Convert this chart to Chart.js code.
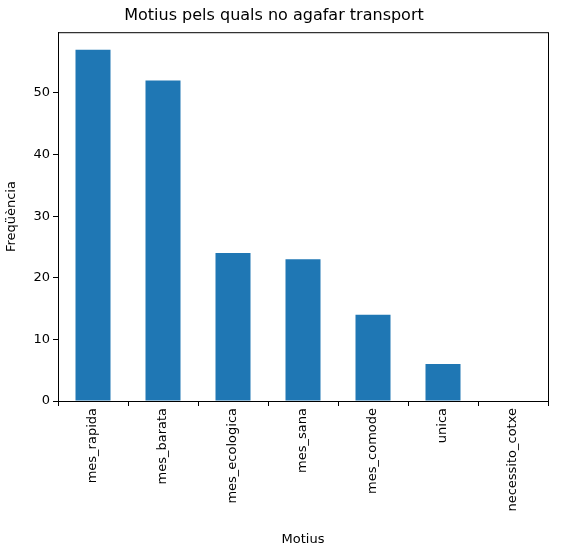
<!DOCTYPE html>
<html>
<head>
<meta charset="utf-8">
<script src="https://cdn.jsdelivr.net/npm/chart.js@4/dist/chart.umd.min.js"></script>
<style>
  html, body { margin: 0; padding: 0; background: #fff; }
  #wrap { width: 563px; height: 551px; }
</style>
</head>
<body>
<div id="wrap"><canvas id="chart"></canvas></div>
<script>
const categories = ['mes_rapida', 'mes_barata', 'mes_ecologica', 'mes_sana', 'mes_comode', 'unica', 'necessito_cotxe'];
const frequencies = [57, 52, 24, 23, 14, 6, 0];
const yTicks = [0, 10, 20, 30, 40, 50];

const FONT = 'DejaVu Sans, sans-serif';
Chart.defaults.font.family = FONT;
Chart.defaults.color = '#000';

// frame around the plot area, matplotlib style
const frame = {
    id: 'frame',
    afterDraw(chart) {
        const { ctx, chartArea: a } = chart;
        ctx.save();
        ctx.strokeStyle = '#000';
        ctx.lineWidth = 1;
        ctx.strokeRect(a.left + 0.5, a.top + 0.5, a.right - a.left, a.bottom - a.top);
        ctx.restore();
    }
};

new Chart(document.getElementById('chart'), {
    type: 'bar',
    data: {
        labels: categories,
        datasets: [{
            data: frequencies,
            backgroundColor: '#1f77b4',
            categoryPercentage: 1,
            barPercentage: 0.5
        }]
    },
    options: {
        responsive: true,
        maintainAspectRatio: false,
        animation: false,
        layout: { padding: { left: 0, right: 15, top: 0, bottom: 0 } },
        plugins: {
            legend: { display: false },
            tooltip: { enabled: false },
            title: {
                display: true,
                text: 'Motius pels quals no agafar transport',
                font: { size: 16, weight: 'normal' },
                padding: { top: 6, bottom: 7 }
            }
        },
        scales: {
            x: {
                grid: { drawOnChartArea: false, tickLength: 5, color: '#000' },
                border: { color: '#000' },
                ticks: { font: { size: 13 }, maxRotation: 90, minRotation: 90, padding: 2 },
                title: { display: true, text: 'Motius', font: { size: 13 }, padding: { top: 4 } },
                afterFit(s) { s.height = 150; }
            },
            y: {
                min: 0,
                max: 59.85,
                grid: { drawOnChartArea: false, tickLength: 5, color: '#000' },
                border: { color: '#000' },
                ticks: { font: { size: 13 }, padding: 3 },
                afterBuildTicks(s) { s.ticks = yTicks.map(v => ({ value: v })); },
                title: { display: true, text: 'Freqüència', font: { size: 13 }, padding: { bottom: 4 } },
                afterFit(s) { s.width = 58; }
            }
        }
    },
    plugins: [frame]
});
</script>
</body>
</html>
